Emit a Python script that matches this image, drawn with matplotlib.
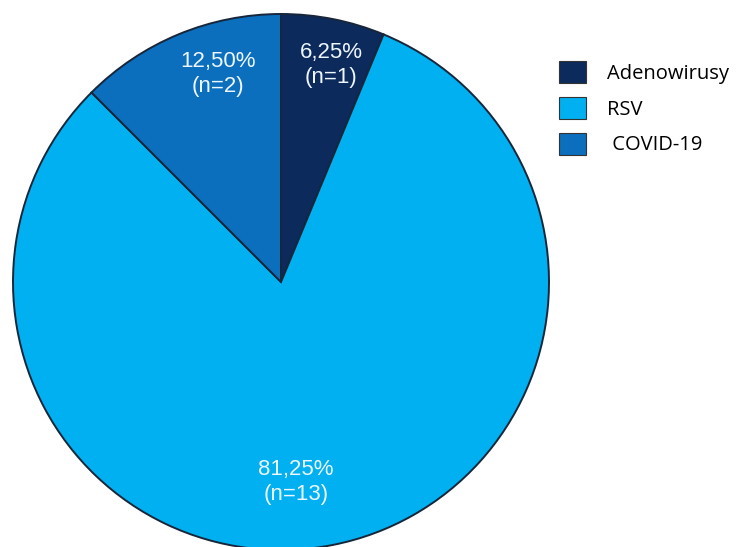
import numpy as np
import matplotlib.pyplot as plt
from matplotlib.patches import Patch

# dane: liczba przypadków wg czynnika
etykiety = ["Adenowirusy", "RSV", " COVID-19"]
liczby = [1, 13, 2]
procenty = ["6,25%", "81,25%", "12,50%"]
kolory = ["#0c2a5b", "#00b0f0", "#0b6fbd"]
# położenie opisów (promień względny, kąt w stopniach)
pozycje_opisow = [(0.83, 77), (0.75, -85.7), (0.81, 107)]

W, H = 745, 547
cx, cy, r = 281, 282, 268

fig = plt.figure(figsize=(W / 100, H / 100), dpi=100)
ax = fig.add_axes([(cx - r) / W, (H - cy - r) / H, 2 * r / W, 2 * r / H])

wedges, _ = ax.pie(
    liczby,
    colors=kolory,
    startangle=90,
    counterclock=False,
    wedgeprops=dict(edgecolor="#17263a", linewidth=1.4),
)
ax.set_xlim(-1, 1)
ax.set_ylim(-1, 1)
ax.set_aspect("equal")

# opisy wewnątrz wycinków
for n, p, (d, kat) in zip(liczby, procenty, pozycje_opisow):
    t = np.deg2rad(kat)
    ax.text(d * np.cos(t), d * np.sin(t), f"{p}\n(n={n})",
            ha="center", va="center", color="#eef6ff",
            fontsize=16, family="Liberation Sans", linespacing=1.25)

uchwyty = [Patch(facecolor=c, edgecolor="#333333", linewidth=0.8) for c in kolory]
fig.legend(uchwyty, etykiety, loc="upper left",
           bbox_to_anchor=(559 / W, 1 - 61 / H),
           frameon=False, borderpad=0, borderaxespad=0,
           handlelength=1.35, handleheight=1.3, handletextpad=1.05,
           labelspacing=0.65, prop=dict(family="Open Sans", size=14.5))

fig.savefig("out.png", dpi=100)
